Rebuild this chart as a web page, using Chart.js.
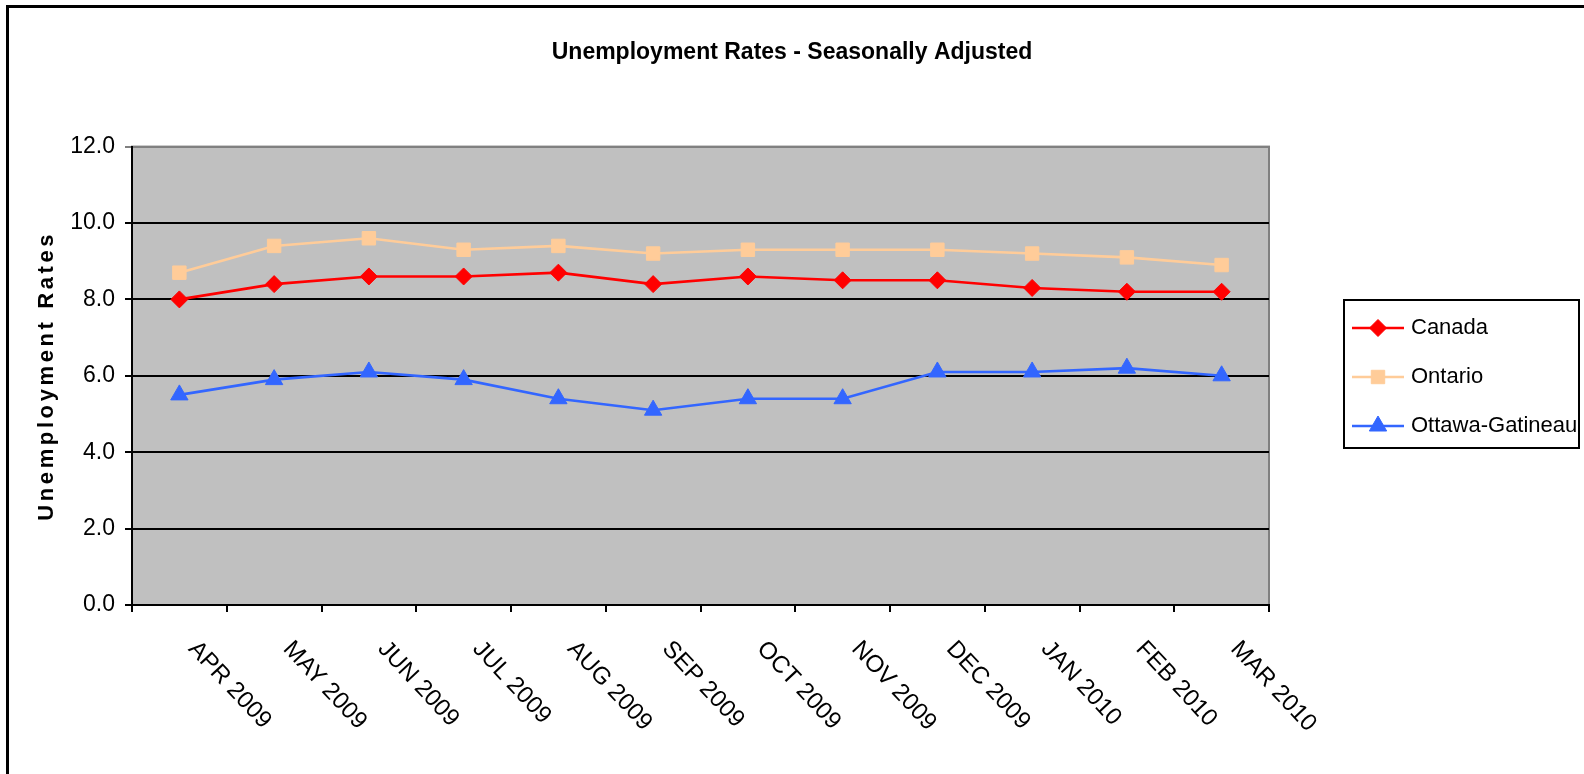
<!DOCTYPE html>
<html>
<head>
<meta charset="utf-8">
<title>Unemployment Rates - Seasonally Adjusted</title>
<script src="https://cdn.jsdelivr.net/npm/chart.js@4.4.1/dist/chart.umd.min.js"></script>
<style>
  html, body { margin: 0; padding: 0; background: #fff; overflow: hidden; }
  canvas { display: block; }
</style>
</head>
<body>
<canvas id="rateChart" width="1584" height="774"></canvas>
<script>
// --- data ---
const months = ["APR 2009", "MAY 2009", "JUN 2009", "JUL 2009", "AUG 2009", "SEP 2009",
                "OCT 2009", "NOV 2009", "DEC 2009", "JAN 2010", "FEB 2010", "MAR 2010"];
const canada  = [8.0, 8.4, 8.6, 8.6, 8.7, 8.4, 8.6, 8.5, 8.5, 8.3, 8.2, 8.2];
const ontario = [8.7, 9.4, 9.6, 9.3, 9.4, 9.2, 9.3, 9.3, 9.3, 9.2, 9.1, 8.9];
const ottawa  = [5.5, 5.9, 6.1, 5.9, 5.4, 5.1, 5.4, 5.4, 6.1, 6.1, 6.2, 6.0];
const yTicks  = [0, 2, 4, 6, 8, 10, 12];

const chartTitle = "Unemployment Rates - Seasonally Adjusted";
const yTitle = "Unemployment Rates";

const sans = "'Liberation Sans', Arial, sans-serif";
const tickFont = "24px " + sans;
const legendFont = "22px " + sans;

// --- Excel-ish extras: backdrop, rotated month labels, boxed legend ---
const excelLook = {
    id: "excelLook",
    beforeDraw(chart) {
        const { ctx, chartArea: a } = chart;
        ctx.save();
        ctx.fillStyle = "#fff";
        ctx.fillRect(0, 0, chart.width, chart.height);
        // frame (only top and left edges are in view)
        ctx.fillStyle = "#000";
        ctx.fillRect(6, 5, chart.width, 3);
        ctx.fillRect(6, 5, 3, chart.height);
        // plot area
        ctx.fillStyle = "#c0c0c0";
        ctx.fillRect(a.left, a.top, a.width, a.height);
        ctx.strokeStyle = "#808080";
        ctx.lineWidth = 2;
        ctx.strokeRect(a.left, a.top, a.width, a.height);
        ctx.restore();

        // spaced-out y title, like the stretched original
        const y = chart.scales.y;
        if (y && !y._spaced) {
            const orig = y.drawTitle.bind(y);
            y.drawTitle = () => {
                y.ctx.save();
                y.ctx.letterSpacing = "3.6px";
                orig();
                y.ctx.restore();
            };
            y._spaced = true;
        }
    },
    afterDraw(chart) {
        const { ctx } = chart;
        const xs = chart.scales.x;

        // month labels, slanted down to the right
        ctx.save();
        ctx.font = tickFont;
        ctx.fillStyle = "#000";
        ctx.textAlign = "left";
        ctx.textBaseline = "middle";
        months.forEach((m, i) => {
            ctx.save();
            ctx.translate(xs.getPixelForValue(i) + 13, xs.top + 40);
            ctx.rotate(47 * Math.PI / 180);
            ctx.fillText(m, 0, 0);
            ctx.restore();
        });
        ctx.restore();

        // legend box
        const box = { left: 1344, top: 300, width: 235, height: 148 };
        ctx.save();
        ctx.strokeStyle = "#000";
        ctx.lineWidth = 2;
        ctx.strokeRect(box.left, box.top, box.width, box.height);
        ctx.font = legendFont;
        ctx.textAlign = "left";
        ctx.textBaseline = "middle";
        chart.data.datasets.forEach((ds, i) => {
            const rowY = box.top + 28 + i * 49;
            ctx.strokeStyle = ds.borderColor;
            ctx.fillStyle = ds.borderColor;
            ctx.lineWidth = ds.borderWidth;
            ctx.beginPath();
            ctx.moveTo(box.left + 8, rowY);
            ctx.lineTo(box.left + 60, rowY);
            ctx.stroke();
            if (Chart.helpers && Chart.helpers.drawPoint) {
                ctx.lineWidth = 1;
                Chart.helpers.drawPoint(ctx, {
                    pointStyle: ds.pointStyle,
                    radius: ds.pointRadius,
                    rotation: 0,
                    borderWidth: 1
                }, box.left + 34, rowY);
            }
            ctx.fillStyle = "#000";
            ctx.fillText(ds.label, box.left + 67, rowY);
        });
        ctx.restore();
    }
};

const ctx = document.getElementById("rateChart").getContext("2d");

new Chart(ctx, {
    type: "line",
    data: {
        labels: months,
        datasets: [
            {
                label: "Canada",
                data: canada,
                borderColor: "#ff0000",
                backgroundColor: "#ff0000",
                borderWidth: 2.6,
                pointStyle: "rectRot",
                pointRadius: 8.5,
                pointBorderWidth: 1,
                tension: 0
            },
            {
                label: "Ontario",
                data: ontario,
                borderColor: "#ffcc99",
                backgroundColor: "#ffcc99",
                borderWidth: 2.6,
                pointStyle: "rect",
                pointRadius: 9.5,
                pointBorderWidth: 1,
                tension: 0
            },
            {
                label: "Ottawa-Gatineau",
                data: ottawa,
                borderColor: "#3366ff",
                backgroundColor: "#3366ff",
                borderWidth: 2.6,
                pointStyle: "triangle",
                pointRadius: 10,
                pointBorderWidth: 1,
                tension: 0
            }
        ]
    },
    options: {
        responsive: false,
        animation: false,
        layout: { padding: 0 },
        plugins: {
            legend: { display: false },
            tooltip: { enabled: false },
            title: {
                display: true,
                text: chartTitle,
                color: "#000",
                font: { family: sans, size: 23, weight: "bold" },
                padding: { top: 39, bottom: 80 }
            }
        },
        scales: {
            x: {
                offset: true,
                grid: { offset: true, drawOnChartArea: false, tickLength: 7, color: "#000", lineWidth: 2 },
                border: { color: "#000", width: 2 },
                ticks: { display: false },
                afterFit: s => { s.height = 169; }
            },
            y: {
                min: yTicks[0],
                max: yTicks[yTicks.length - 1],
                afterBuildTicks: s => { s.ticks = yTicks.map(v => ({ value: v })); },
                ticks: {
                    callback: v => Number(v).toFixed(1),
                    color: "#000",
                    font: { family: sans, size: 23 },
                    padding: 10
                },
                grid: {
                    color: c => (c.tick && c.tick.value === 12 ? "#808080" : "#000"),
                    lineWidth: 2,
                    tickLength: 7
                },
                border: { color: "#000", width: 2 },
                title: {
                    display: true,
                    text: yTitle,
                    color: "#000",
                    font: { family: sans, size: 22, weight: "bold" },
                    padding: { top: 34, bottom: 0 }
                },
                afterFit: s => { s.width = 132; }
            },
            // empty right-hand column that holds the legend
            legendSpace: {
                type: "linear",
                position: "right",
                grid: { display: false },
                border: { display: false },
                ticks: { display: false },
                afterFit: s => { s.width = 315; }
            }
        }
    },
    plugins: [excelLook]
});
</script>
</body>
</html>
